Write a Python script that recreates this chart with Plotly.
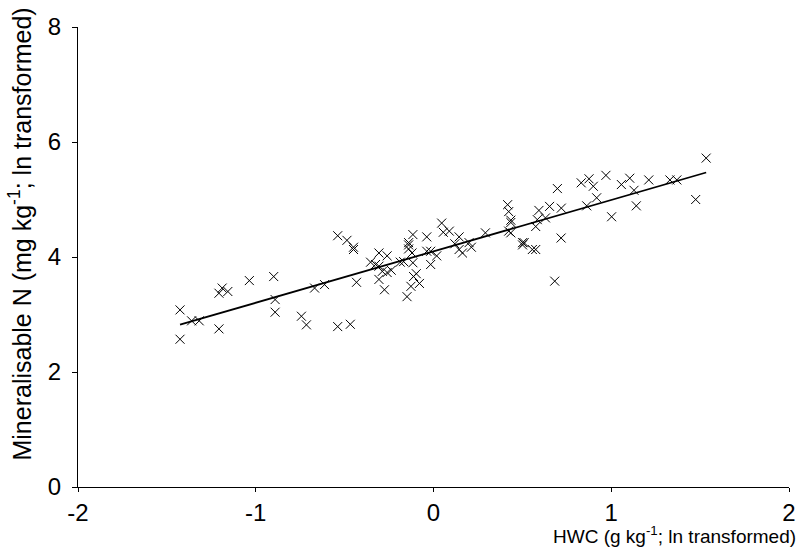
import plotly.graph_objects as go

hwc = [-1.426, -1.426, -1.361, -1.318, -1.207, -1.189, -1.157, -1.207, -1.036, -0.899,
       -0.891, -0.891, -0.743, -0.715, -0.669, -0.613, -0.539, -0.539, -0.487, -0.468,
       -0.450, -0.450, -0.433, -0.354, -0.326, -0.307, -0.307, -0.307, -0.288, -0.276,
       -0.261, -0.261, -0.238, -0.187, -0.168, -0.149, -0.140, -0.140, -0.140, -0.127,
       -0.121, -0.116, -0.116, -0.112, -0.097, -0.079, -0.038, -0.038, -0.016, -0.016,
       0.018, 0.046, 0.055, 0.089, 0.120, 0.144, 0.144, 0.163, 0.200, 0.213,
       0.292, 0.435, 0.435, 0.501, 0.501, 0.556, 0.417, 0.423, 0.435, 0.423,
       0.510, 0.575, 0.575, 0.584, 0.593, 0.630, 0.653, 0.682, 0.697, 0.718,
       0.719, 0.831, 0.862, 0.875, 0.899, 0.918, 0.970, 1.002, 1.057, 1.104,
       1.128, 1.141, 1.211, 1.330, 1.369, 1.475, 1.534]
min_n = [3.08, 2.57, 2.89, 2.89, 3.37, 3.46, 3.40, 2.75, 3.59, 3.66,
         3.26, 3.04, 2.97, 2.82, 3.46, 3.52, 4.37, 2.79, 4.29, 2.83,
         4.17, 4.13, 3.56, 3.91, 3.87, 4.07, 3.84, 3.61, 3.75, 3.43,
         4.02, 3.73, 3.77, 3.91, 3.92, 3.31, 4.21, 4.25, 4.14, 3.49,
         4.07, 4.39, 3.90, 3.66, 3.71, 3.54, 4.35, 4.10, 4.10, 3.87,
         4.02, 4.59, 4.43, 4.45, 4.23, 4.35, 4.13, 4.07, 4.25, 4.17,
         4.42, 4.60, 4.42, 4.25, 4.21, 4.13, 4.91, 4.79, 4.64, 4.45,
         4.25, 4.13, 4.53, 4.65, 4.81, 4.68, 4.88, 3.58, 5.19, 4.33,
         4.85, 5.29, 4.89, 5.36, 5.23, 5.03, 5.42, 4.70, 5.26, 5.37,
         5.16, 4.89, 5.34, 5.34, 5.34, 5.00, 5.72]

fit_slope = 0.894
fit_intercept = 4.098

x_ticks = [-2, -1, 0, 1, 2]
y_ticks = [0, 2, 4, 6, 8]

line_x = [min(hwc), max(hwc)]
line_y = [fit_intercept + fit_slope * v for v in line_x]

fig = go.Figure()
fig.add_trace(go.Scatter(
    x=hwc, y=min_n, mode="markers",
    marker=dict(symbol="x-thin", size=9, color="black",
                line=dict(color="black", width=1)),
    showlegend=False, hoverinfo="skip"))
fig.add_trace(go.Scatter(
    x=line_x, y=line_y, mode="lines",
    line=dict(color="black", width=1.8),
    showlegend=False, hoverinfo="skip"))

font = "Liberation Sans, Arial, sans-serif"
fig.update_layout(
    width=806, height=556,
    margin=dict(l=78, r=10, t=27, b=69),
    paper_bgcolor="white", plot_bgcolor="white",
    font=dict(family=font, color="black"),
    xaxis=dict(range=[-2, 2], tickvals=x_ticks, ticktext=[str(v) for v in x_ticks],
               showgrid=False, zeroline=False, showline=True, linecolor="black",
               linewidth=1.3, ticks="outside", ticklen=4, tickcolor="black",
               tickfont=dict(size=24, family=font), fixedrange=True),
    yaxis=dict(range=[0, 8], tickvals=y_ticks, ticktext=[str(v) for v in y_ticks],
               showgrid=False, zeroline=False, showline=True, linecolor="black",
               linewidth=1.3, ticks="outside", ticklen=5, tickcolor="black",
               ticklabelstandoff=6,
               tickfont=dict(size=24, family=font), fixedrange=True),
    annotations=[
        dict(text="HWC (g kg<sup>-1</sup>; ln transformed)", xref="paper", yref="paper",
             x=1.013, y=-0.104, xanchor="right", yanchor="middle", showarrow=False,
             font=dict(size=19, family=font, color="black")),
        dict(text="Mineralisable N (mg kg<sup>-1</sup>; ln transformed)", xref="paper",
             yref="paper", x=-0.0816, y=0.551, xanchor="center", yanchor="middle",
             textangle=-90, showarrow=False,
             font=dict(size=25, family=font, color="black")),
    ],
)

fig.write_html("out.html")
